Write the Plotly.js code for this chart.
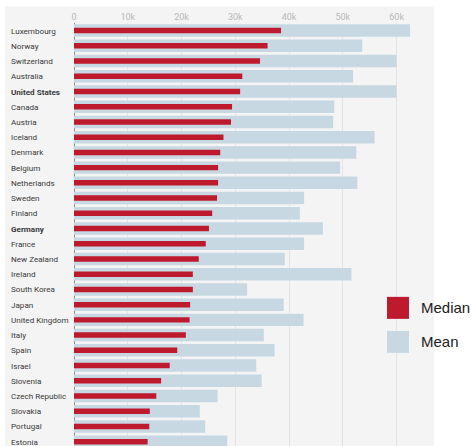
<!DOCTYPE html>
<html><head><meta charset="utf-8">
<script src="https://cdn.plot.ly/plotly-3.0.1.min.js"></script>
<style>html,body{margin:0;padding:0;background:#fff;}#chart{width:471px;height:446px;}</style>
</head><body><div id="chart"></div>
<script>
const countries = ["Luxembourg","Norway","Switzerland","Australia","United States","Canada","Austria","Iceland","Denmark","Belgium","Netherlands","Sweden","Finland","Germany","France","New Zealand","Ireland","South Korea","Japan","United Kingdom","Italy","Spain","Israel","Slovenia","Czech Republic","Slovakia","Portugal","Estonia"];
const median = [38500,36000,34600,31300,30900,29400,29200,27800,27200,26800,26800,26600,25700,25100,24500,23200,22100,22100,21600,21500,20800,19200,17800,16200,15300,14100,14000,13700];
const mean = [62500,53600,60000,51900,60000,48400,48200,55900,52500,49500,52700,42800,42000,46300,42800,39200,51600,32200,39000,42700,35300,37300,33900,34900,26700,23400,24400,28500];
const boldCountries = ["United States","Germany"];
const tickVals = [0,10000,20000,30000,40000,50000,60000];
const tickText = ["0","10k","20k","30k","40k","50k","60k"];
const seriesNames = ["Median","Mean"];
const colMedian = "#bd1a2e", colMean = "#c8d8e2", panel = "#f4f4f4";

const traces = [
  {type:"bar", orientation:"h", y:countries, x:mean, name:seriesNames[1], marker:{color:colMean}, width:0.82, hoverinfo:"skip"},
  {type:"bar", orientation:"h", y:countries, x:median, name:seriesNames[0], marker:{color:colMedian}, width:0.36, hoverinfo:"skip"}
];

const L=74, R=434, T=23.4, B=446;
const W=R-L, H=B-T, rowH=15.21;
const px = v => (v-L)/W, py = v => (B-v)/H;

const annotations = countries.map(c => ({
  xref:"paper", yref:"y", x:px(9), y:c, xanchor:"left", yanchor:"middle",
  text: boldCountries.includes(c) ? "<b>"+c+"</b>" : c,
  showarrow:false, font:{family:"Roboto", size:8.1, color:"#3a3a3a"}
}));
annotations.push({xref:"paper", yref:"paper", x:px(419), y:py(308), xanchor:"left", yanchor:"middle", text:seriesNames[0], showarrow:false, font:{family:"Liberation Sans", size:15, color:"#222"}});
annotations.push({xref:"paper", yref:"paper", x:px(419), y:py(342), xanchor:"left", yanchor:"middle", text:seriesNames[1], showarrow:false, font:{family:"Liberation Sans", size:15, color:"#222"}});

const shapes = [
  {type:"rect", xref:"paper", yref:"paper", x0:px(5), x1:px(434), y0:py(500), y1:py(7), fillcolor:panel, line:{width:0}, layer:"below"},
  {type:"rect", xref:"paper", yref:"paper", x0:px(380), x1:px(434), y0:py(356), y1:py(293), fillcolor:panel, line:{width:0}, layer:"between"},
  {type:"rect", xref:"paper", yref:"paper", x0:px(387), x1:px(409), y0:py(319), y1:py(297), fillcolor:colMedian, line:{width:0}, layer:"above"},
  {type:"rect", xref:"paper", yref:"paper", x0:px(387), x1:px(409), y0:py(353), y1:py(331), fillcolor:colMean, line:{width:0}, layer:"above"}
];

const layout = {
  width:471, height:446,
  margin:{l:L, r:471-R, t:T, b:0, pad:0},
  paper_bgcolor:"#ffffff", plot_bgcolor:panel,
  barmode:"overlay", showlegend:false,
  font:{family:"Roboto"},
  xaxis:{side:"top", range:[0, W/53.77*10000], tickvals:tickVals, ticktext:tickText,
    tickfont:{family:"Roboto", size:9, color:"#b8b8b8"}, ticks:"", showgrid:true, gridcolor:"#e4e4e4", gridwidth:1,
    zeroline:true, zerolinecolor:"#8a8a8a", zerolinewidth:1, showline:false, fixedrange:true},
  yaxis:{type:"category", range:[-0.5 + H/rowH, -0.5], showticklabels:false, ticks:"", showgrid:false, zeroline:false, fixedrange:true},
  annotations, shapes
};
Plotly.newPlot("chart", traces, layout, {displayModeBar:false, staticPlot:true});
</script></body></html>
